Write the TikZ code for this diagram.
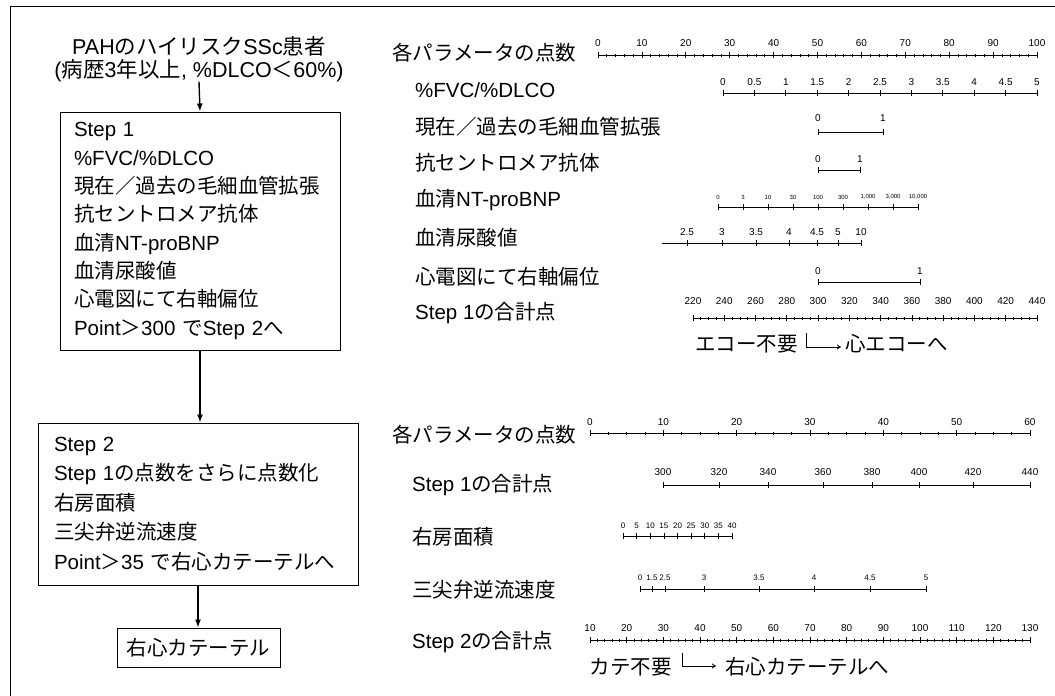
\documentclass[tikz,border=0pt]{standalone}
\usepackage{fontspec}
\setmainfont{Noto Sans CJK JP}
\newfontfamily\tickfont{Liberation Sans}
\newfontfamily\LSfont{Liberation Sans}
\newcommand\LS[1]{{\LSfont #1}}
\usetikzlibrary{arrows.meta}
\begin{document}
\begin{tikzpicture}[x=1pt,y=-1pt,
  box/.style={draw, line width=1pt, rectangle, inner sep=0pt},
  flow/.style={-{Latex[length=8pt,width=6pt]}, line width=1.4pt},
  hk/.style={-{To[length=4pt,width=5pt]}, line width=0.9pt},
  ax/.style={line width=0.7pt},
  lab/.style={font=\tickfont\fontsize{10}{10}\selectfont, inner sep=0pt},
  mlab/.style={font=\tickfont\fontsize{8}{8}\selectfont, inner sep=0pt},
  slab/.style={font=\tickfont\fontsize{6}{6}\selectfont, inner sep=0pt},
  jp/.style={font=\fontsize{20.5}{22}\selectfont, inner sep=0pt, anchor=west},
]
\useasboundingbox (0,0) rectangle (1055,696);
\draw[line width=0.8pt] (1055,6) -- (10,6) -- (10,696);

% ---------- flow chart ----------
\node[align=center, inner sep=0pt, font=\fontsize{21.5}{22.5}\selectfont] (title) at (199,59)
  {\LS{PAH}のハイリスク\LS{SSc}患者\\\LS{(}病歴\LS{3}年以上\LS{, \%DLCO}＜\LS{60\%)}};
\node[box, minimum width=280pt, minimum height=238pt, text width=252pt, align=left,
  font=\fontsize{20.5}{28.3}\selectfont] (s1) at (200,231)
  {\LS{Step 1}\\\LS{\%FVC/\%DLCO}\\現在／過去の毛細血管拡張\\抗セントロメア抗体\\血清\LS{NT-proBNP}\\血清尿酸値\\心電図にて右軸偏位\\\LS{Point}＞\LS{300 }で\LS{Step 2}へ};
\node[box, minimum width=320pt, minimum height=162pt, text width=288pt, align=left,
  font=\fontsize{20.5}{29.6}\selectfont] (s2) at (198,504)
  {\LS{Step 2}\\\LS{Step 1}の点数をさらに点数化\\右房面積\\三尖弁逆流速度\\\LS{Point}＞\LS{35 }で右心カテーテルへ};
\node[box, minimum width=163pt, minimum height=39pt, font=\fontsize{20.5}{22}\selectfont] (cath) at (198.5,647.5) {右心カテーテル};
\draw[flow] (title.south) -- (s1.north);
\draw[flow] (s1.south) -- (s1.south |- s2.north);
\draw[flow] (s2.south) -- (s2.south |- cath.north);

% ---------- Step 1 nomogram labels ----------
\node[jp] (p1) at (392,53) {各パラメータの点数};
\node[jp] (q1) at (415,90) {\LS{\%FVC/\%DLCO}};
\node[jp] (q2) at (415,127) {現在／過去の毛細血管拡張};
\node[jp] (q3) at (415,163) {抗セントロメア抗体};
\node[jp] (q4) at (415,200) {血清\LS{NT-proBNP}};
\node[jp] (q5) at (415,238) {血清尿酸値};
\node[jp] (q6) at (415,277) {心電図にて右軸偏位};
\node[jp] (q7) at (415,313) {\LS{Step 1}の合計点};
\node[jp, anchor=east] (e1) at (798,344) {エコー不要};
\node[jp] (e2) at (845,344) {心エコーへ};
\coordinate (h1) at (806,333);
\coordinate (h2) at (806,347);
\coordinate (h3) at (841,347);
\draw[hk] (h1) -- (h2) -- (h3);

% A: points 0-100
\draw[ax] (598,55) -- (1037,55);
\foreach \k in {0,...,50} \draw[ax] ({598+8.78*\k},53.5) -- ++(0,3);
\foreach \k in {0,...,10} {\pgfmathtruncatemacro\v{10*\k}
  \draw[ax] ({598+43.9*\k},52) -- ++(0,6);
  \node[lab] (a\k) at ({598+43.9*\k},43) {\v};}
% B: %FVC/%DLCO
\draw[ax] (723,93) -- (1037,93);
\foreach \k/\l in {0/0,1/0.5,2/1,3/1.5,4/2,5/2.5,6/3,7/3.5,8/4,9/4.5,10/5} {
  \draw[ax] ({723+31.4*\k},90) -- ++(0,6);
  \node[lab] (b\k) at ({723+31.4*\k},82) {\l};}
% C: telangiectasia
\draw[ax] (818,132) -- (883,132);
\foreach \x/\l [count=\i] in {818/0,883/1} {\draw[ax] (\x,129) -- ++(0,6); \node[lab] (c\i) at (\x,118) {\l};}
% D: anticentromere
\draw[ax] (818,170) -- (860,170);
\foreach \x/\l [count=\i] in {818/0,860/1} {\draw[ax] (\x,167) -- ++(0,6); \node[lab] (d\i) at (\x,159) {\l};}
% E: NT-proBNP
\draw[ax] (718,207) -- (918,207);
\foreach \l [count=\i from 0] in {0,3,10,30,100,300,{1,000},{3,000},{10,000}} {
  \draw[ax] ({718+25*\i},204) -- ++(0,6);
  \node[slab] (n\i) at ({718+25*\i},197) {\l};}
% F: uric acid
\draw[ax] (662,243) -- (861,243);
\foreach \x/\l [count=\i] in {687/2.5,722/3,756/3.5,789/4,817/4.5,838/5,861/10} {
  \draw[ax] (\x,240) -- ++(0,6); \node[lab] (f\i) at (\x,232) {\l};}
% G: ECG
\draw[ax] (818,282) -- (920,282);
\foreach \x/\l [count=\i] in {818/0,920/1} {\draw[ax] (\x,279) -- ++(0,6); \node[lab] (g\i) at (\x,271) {\l};}
% H: Step 1 total
\draw[ax] (693,318) -- (1037,318);
\foreach \k in {0,...,44} \draw[ax] ({693+7.818*\k},316.5) -- ++(0,3);
\foreach \k in {0,...,11} {\pgfmathtruncatemacro\v{220+20*\k}
  \draw[ax] ({693+31.27*\k},315) -- ++(0,6);
  \node[lab] (t\k) at ({693+31.27*\k},301) {\v};}

% ---------- Step 2 nomogram ----------
\node[jp] (p2) at (392,435) {各パラメータの点数};
\node[jp] (r1) at (412,485) {\LS{Step 1}の合計点};
\node[jp] (r2) at (412,537) {右房面積};
\node[jp] (r3) at (412,590) {三尖弁逆流速度};
\node[jp] (r4) at (412,642) {\LS{Step 2}の合計点};
\node[jp, anchor=east] (k1) at (672,667) {カテ不要};
\node[jp] (k2) at (725,667) {右心カテーテルへ};
\coordinate (j1) at (682,653);
\coordinate (j2) at (682,666);
\coordinate (j3) at (716,666);
\draw[hk] (j1) -- (j2) -- (j3);

% I: points 0-60
\draw[ax] (590,433) -- (1030,433);
\foreach \k in {0,...,24} \draw[ax] ({590+18.333*\k},431.5) -- ++(0,3);
\foreach \k in {0,...,6} {\pgfmathtruncatemacro\v{10*\k}
  \draw[ax] ({590+73.33*\k},430) -- ++(0,6);
  \node[lab] (i\k) at ({590+73.33*\k},422) {\v};}
% J: Step 1 total 300-440
\draw[ax] (663,485) -- (1030,485);
\foreach \x/\l [count=\i] in {663/300,719/320,768/340,823/360,872/380,919/400,973/420,1030/440} {
  \draw[ax] (\x,482) -- ++(0,6); \node[lab] (jj\i) at (\x,472) {\l};}
% K: RA area
\draw[ax] (623,536) -- (732,536);
\foreach \l [count=\i from 0] in {0,5,10,15,20,25,30,35,40} {
  \draw[ax] ({623+13.625*\i},533) -- ++(0,6);
  \node[mlab] (ra\i) at ({623+13.625*\i},526) {\l};}
% L: TR velocity
\draw[ax] (640,589) -- (926,589);
\foreach \x/\l [count=\i] in {640/0,652/1.5,665/2.5,704/3,759/3.5,814/4,870/4.5,926/5} {
  \draw[ax] (\x,586) -- ++(0,6); \node[mlab] (tr\i) at (\x,578) {\l};}
% M: Step 2 total 10-130
\draw[ax] (590,640) -- (1030,640);
\foreach \k in {0,...,60} \draw[ax] ({590+7.333*\k},638.5) -- ++(0,3);
\foreach \k in {0,...,12} {\pgfmathtruncatemacro\v{10+10*\k}
  \draw[ax] ({590+36.667*\k},637) -- ++(0,6);
  \node[lab] (m\k) at ({590+36.667*\k},628) {\v};}
\end{tikzpicture}
\end{document}
